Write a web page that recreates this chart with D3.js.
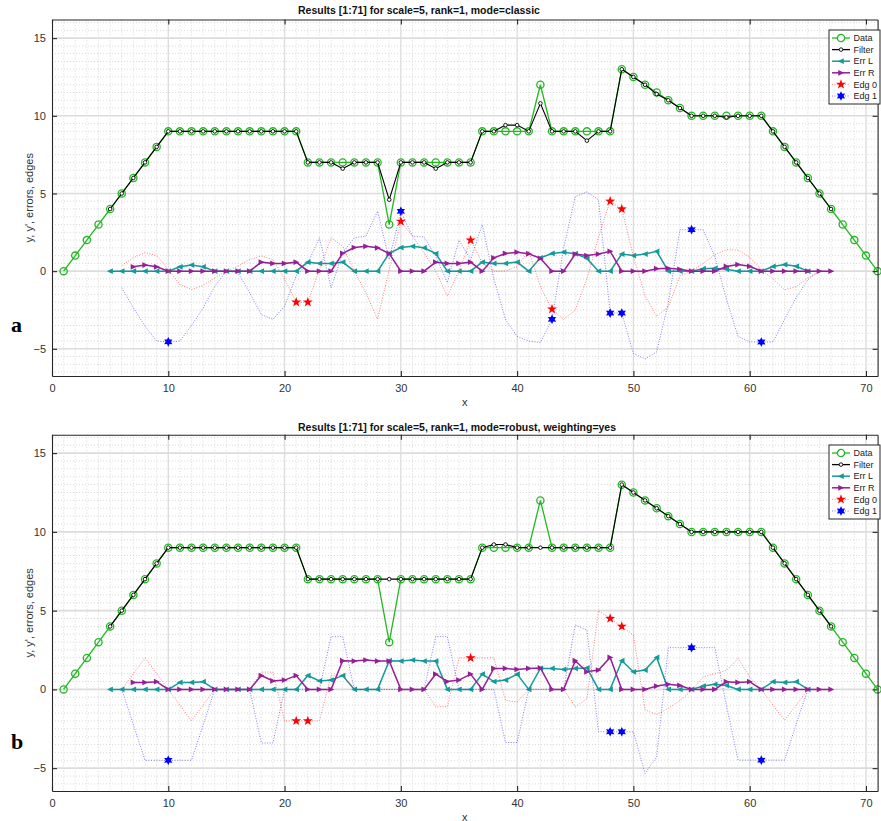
<!DOCTYPE html>
<html>
<head>
<meta charset="utf-8">
<script src="https://cdn.jsdelivr.net/npm/d3@7"></script>
<style>
  body { margin: 0; background: #fff; }
  svg { display: block; font-family: "Liberation Sans", Arial, Helvetica, sans-serif; }
</style>
</head>
<body>
<svg id="chart" width="881" height="821"></svg>
<script>
// ---- samples ----
const xFirst = 1;
const dataY = [0,1,2,3,4,5,6,7,8,9, 9,9,9,9,9,9,9,9,9,9, 9,7,7,7,7,7,7,7,3,7,
               7,7,7,7,7,7,9,9,9,9, 9,12,9,9,9,9,9,9,13,12.5, 12,11.5,11,10.5,10,10,10,10,10,10,
               10,9,8,7,6,5,4,3,2,1, 0];

// filter output, x = 5..67
const filterStart = 5;
const filterClassic = [4,5,6,7,8,9,9,9,9,9, 9,9,9,9,9,9,9,7,7,7, 6.6,7,7,7,4.6,7,7,7,6.6,7,
                       7,7,9,9,9.4,9.4,9,10.8,9,9, 9,8.4,9,9,13,12.5,12,11.4,11,10.5, 10,10,10,9.9,10,10,10,9,8,7,
                       6,5,4];
const filterRobust  = [4,5,6,7,8,9,9,9,9,9, 9,9,9,9,9,9,9,7,7,7, 7,7,7,7,7,7,7,7,7,7,
                       7,7,9,9.2,9.2,9,9,9,9,9, 9,9,9,9,13,12.5,12,11.5,11,10.5, 10,10,10,10,10,10,10,9,8,7,
                       6,5,4];

// left-window error, x = 5..65
const errLStart = 5;
const errLClassic = [0,0,0,0,0,0,0.28,0.39,0.28,0, 0,0,0,0,0,0,0,0.58,0.5,0.5, 0.58,0,0,0,1.15,1.52,1.6,1.5,1.13,0,
                     0,0,0.58,0.5,0.5,0.58,0,0.86,1.14,1.22, 1.12,0.82,0,0,1.1,1.0,1.1,1.28,0,0, 0,0.16,0.18,0.12,0,0,0,0.3,0.42,0.31,
                     0];
const errLRobust  = [0,0,0,0,0,0,0.44,0.44,0.49,0, 0,0,0,0,0,0,0,0.88,0.54,0.59, 0.88,0,0,0,1.82,1.8,1.86,1.8,1.8,0,
                     0,0,0.97,0.5,0.59,0.97,0,1.33,1.33,1.27, 1.33,1.36,0,0,1.82,1.12,1.23,2.03,0,0, 0,0.21,0.32,0.25,0,0,0,0.49,0.44,0.49,
                     0];

// right-window error, x = 7..67
const errRStart = 7;
const errRClassic = [0.28,0.39,0.28,0,0,0,0,0,0,0, 0,0.58,0.5,0.5,0.58,0,0,0,1.15,1.52, 1.6,1.5,1.13,0,0,0,0.58,0.5,0.5,0.58,
                     0,0.86,1.14,1.22,1.12,0.82,0,0,1.1,1.0, 1.1,1.28,0,0,0,0.16,0.18,0.12,0,0, 0,0.3,0.42,0.31,0,0,0,0,0,0,
                     0];
const errRRobust  = [0.44,0.44,0.49,0,0,0,0,0,0,0, 0,0.88,0.54,0.59,0.88,0,0,0,1.82,1.8, 1.86,1.8,1.8,0,0,0,0.97,0.5,0.59,0.97,
                     0,1.33,1.33,1.27,1.33,1.36,0,0,1.82,1.12, 1.23,2.03,0,0,0,0.21,0.32,0.25,0,0, 0,0.49,0.44,0.49,0,0,0,0,0,0,
                     0];

// edge indicators, x = 6..66
const edgStart = 6;
const edg0Classic = [0.36,0.86,1.2,1.0,0.1,-0.86,-1.18,-0.92,-0.43,0, 0.32,0.75,0.97,0.75,-0.5,-2.0,-2.0,0.1,2.15,1.6,
                     0,-1.4,-3.1,0.1,3.2,2.25,1.18,0,-1.6,0, 2.0,0.54,0,0,0.3,1.3,-1.0,-2.45,-3.1,-2.5,
                     -0.5,2.2,4.5,4.0,0.95,-1.6,-2.9,-2.3,-0.3,0, 0.5,1.06,1.38,1.35,0.9,0.1,-0.5,-1.2,-1.0,-0.44,
                     0];
const edg1Classic = [-1.07,-2.36,-3.54,-4.5,-4.55,-4.5,-3.5,-2.36,-0.97,0, -0.1,-1.4,-2.8,-3.1,-2.25,-0.3,0.5,2.15,-1.07,1.18,
                     2.15,2.25,3.86,0.75,3.85,2.25,2.2,0.97,-0.75,2.0, 0.75,3.0,-0.5,-3.1,-4.2,-4.5,-4.6,-3.1,1.5,4.8,
                     5.1,4.6,-2.7,-2.7,-5.3,-5.65,-5.2,-2.05,2.67,2.67, 2.67,0.95,-1.8,-4.2,-4.56,-4.56,-4.56,-3.1,-1.7,-0.55,
                     0];
const edg0Robust  = [0,1,2,1,0,-1,-2,-1,0,0, 0,0,1.1,1.1,-2,-2,-2,-2,0.9,0.9,
                     0,0,0,0,0,0,0,-1.1,-1.1,2.0, 2.0,2.0,2.0,-0.7,-0.8,0,0,0,0,-1.1,
                     -0.6,5.0,4.5,4.0,3.45,-1.3,-1.6,-1.2,-0.7,-0.1, 0.8,1.0,1.2,1.97,0.8,0,-1.0,-1.95,-1.0,0,
                     0];
const edg1Robust  = [0,-2.25,-4.5,-4.5,-4.5,-4.5,-4.5,-2.25,0,0, 0,0,-3.4,-3.4,0,0,0,0,3.35,3.35,
                     0,0,0,0,0,0,0,3.35,3.35,0, 0,0,0,-3.37,-3.37,0,0,0,0,4.09,
                     3.77,-2.69,-2.69,-2.69,-2.69,-5.34,-4.28,2.65,2.65,2.65, 2.65,2.65,-1.0,-4.49,-4.49,-4.49,-4.49,-4.49,-2.2,0,
                     0];

// detected edge positions
const edg0MarksClassic = [21,22,30,36,43,48,49];
const edg1MarksClassic = [10,30,43,48,49,55,61];
const edg0MarksRobust  = [21,22,36,48,49];
const edg1MarksRobust  = [10,48,49,55,61];

const xTicks = [0,10,20,30,40,50,60,70];
const yTicks = [-5,0,5,10,15];
const legendLabels = ["Data","Filter","Err L","Err R","Edg 0","Edg 1"];
const titles = ["Results [1:71] for scale=5, rank=1, mode=classic",
                "Results [1:71] for scale=5, rank=1, mode=robust, weighting=yes"];
const panelLetters = ["a","b"];
const xLabel = "x";
const yLabel = "y, y', errors, edges";

// ---- styling ----
const C = {
  data: "#22b822", filter: "#000000", errL: "#159a9a", errR: "#961e96",
  edg0: "#ff3b3b", edg1: "#3b3bff", axis: "#262626", grid: "#dcdcdc", minor: "#cfcfcf"
};

const svg = d3.select("#chart");

function seq(start, values) { return values.map((v, i) => ({ x: start + i, y: v })); }

// marker paths
function triPath(dir, s) { // dir -1 = pointing left, +1 = pointing right
  return `M${dir*s},0L${-dir*s*0.85},${-s*0.9}L${-dir*s*0.85},${s*0.9}Z`;
}
function starPath(points, rOut, rIn, rot) {
  let p = "";
  for (let i = 0; i < points * 2; i++) {
    const r = i % 2 === 0 ? rOut : rIn;
    const a = rot + i * Math.PI / points;
    p += (i ? "L" : "M") + (r * Math.sin(a)).toFixed(2) + "," + (-r * Math.cos(a)).toFixed(2);
  }
  return p + "Z";
}
const pentagram = starPath(5, 5.2, 2.1, 0);
const hexagram = starPath(6, 4.8, 2.6, 0);

function drawPanel(cfg) {
  const g = svg.append("g");
  const x = d3.scaleLinear().domain([0, 71]).range([cfg.left, cfg.right]);
  const y = d3.scaleLinear().domain(cfg.yDomain).range([cfg.bottom, cfg.top]);

  // minor grid
  const minorX = d3.range(1, 71).filter(v => v % 10 !== 0);
  const minorY = d3.range(Math.ceil(cfg.yDomain[0] * 2) / 2, cfg.yDomain[1], 0.5).filter(v => v % 5 !== 0);
  g.append("g").selectAll("line").data(minorX).join("line")
    .attr("x1", d => x(d)).attr("x2", d => x(d)).attr("y1", cfg.top).attr("y2", cfg.bottom)
    .attr("stroke", C.minor).attr("stroke-width", 0.8).attr("stroke-dasharray", "1,2");
  g.append("g").selectAll("line").data(minorY).join("line")
    .attr("x1", cfg.left).attr("x2", cfg.right).attr("y1", d => y(d)).attr("y2", d => y(d))
    .attr("stroke", C.minor).attr("stroke-width", 0.8).attr("stroke-dasharray", "1,2");
  // major grid
  g.append("g").selectAll("line").data(xTicks.filter(v => v > 0)).join("line")
    .attr("x1", d => x(d)).attr("x2", d => x(d)).attr("y1", cfg.top).attr("y2", cfg.bottom)
    .attr("stroke", C.grid).attr("stroke-width", 1.3);
  g.append("g").selectAll("line").data(yTicks).join("line")
    .attr("x1", cfg.left).attr("x2", cfg.right).attr("y1", d => y(d)).attr("y2", d => y(d))
    .attr("stroke", C.grid).attr("stroke-width", 1.6);

  const line = d3.line().x(d => x(d.x)).y(d => y(d.y));

  // Data
  const dataPts = seq(xFirst, dataY);
  g.append("path").datum(dataPts).attr("d", line).attr("fill", "none")
    .attr("stroke", C.data).attr("stroke-width", 1.3);
  g.append("g").selectAll("circle").data(dataPts).join("circle")
    .attr("cx", d => x(d.x)).attr("cy", d => y(d.y)).attr("r", 3.6)
    .attr("fill", "none").attr("stroke", C.data).attr("stroke-width", 1.3);

  // Filter
  const filtPts = seq(filterStart, cfg.filter);
  g.append("path").datum(filtPts).attr("d", line).attr("fill", "none")
    .attr("stroke", C.filter).attr("stroke-width", 1.1);
  g.append("g").selectAll("circle").data(filtPts).join("circle")
    .attr("cx", d => x(d.x)).attr("cy", d => y(d.y)).attr("r", 1.8)
    .attr("fill", "#fff").attr("stroke", C.filter).attr("stroke-width", 0.9);

  // Err L
  const lPts = seq(errLStart, cfg.errL);
  g.append("path").datum(lPts).attr("d", line).attr("fill", "none")
    .attr("stroke", C.errL).attr("stroke-width", 1.5);
  g.append("g").selectAll("path").data(lPts).join("path")
    .attr("transform", d => `translate(${x(d.x)},${y(d.y)})`)
    .attr("d", triPath(-1, 3.2)).attr("fill", C.errL);

  // Err R
  const rPts = seq(errRStart, cfg.errR);
  g.append("path").datum(rPts).attr("d", line).attr("fill", "none")
    .attr("stroke", C.errR).attr("stroke-width", 1.5);
  g.append("g").selectAll("path").data(rPts).join("path")
    .attr("transform", d => `translate(${x(d.x)},${y(d.y)})`)
    .attr("d", triPath(1, 3.2)).attr("fill", C.errR);

  // Edg 0 / Edg 1
  const e0 = seq(edgStart, cfg.edg0), e1 = seq(edgStart, cfg.edg1);
  g.append("path").datum(e0).attr("d", line).attr("fill", "none")
    .attr("stroke", C.edg0).attr("stroke-opacity", 0.65).attr("stroke-width", 1).attr("stroke-dasharray", "1,1.6");
  g.append("path").datum(e1).attr("d", line).attr("fill", "none")
    .attr("stroke", C.edg1).attr("stroke-opacity", 0.65).attr("stroke-width", 1).attr("stroke-dasharray", "1,1.6");
  g.append("g").selectAll("path").data(e0.filter(d => cfg.marks0.includes(d.x))).join("path")
    .attr("transform", d => `translate(${x(d.x)},${y(d.y)})`).attr("d", pentagram).attr("fill", "#ff0000");
  g.append("g").selectAll("path").data(e1.filter(d => cfg.marks1.includes(d.x))).join("path")
    .attr("transform", d => `translate(${x(d.x)},${y(d.y)})`).attr("d", hexagram).attr("fill", "#0000ff");

  // axes (ticks inside, box)
  const tick = 5;
  const axB = g.append("g").attr("transform", `translate(0,${cfg.bottom})`)
    .call(d3.axisBottom(x).tickValues(xTicks).tickSize(-tick).tickPadding(8).tickSizeOuter(0));
  const axT = g.append("g").attr("transform", `translate(0,${cfg.top})`)
    .call(d3.axisTop(x).tickValues(xTicks).tickSize(-tick).tickFormat("").tickSizeOuter(0));
  const axL = g.append("g").attr("transform", `translate(${cfg.left},0)`)
    .call(d3.axisLeft(y).tickValues(yTicks).tickSize(-tick).tickPadding(6).tickSizeOuter(0));
  const axR = g.append("g").attr("transform", `translate(${cfg.right},0)`)
    .call(d3.axisRight(y).tickValues(yTicks).tickSize(-tick).tickFormat("").tickSizeOuter(0));
  [axB, axT, axL, axR].forEach(a => {
    a.attr("font-family", null);
    a.select(".domain").attr("stroke", C.axis).attr("stroke-width", 1.1);
    a.selectAll(".tick line").attr("stroke", C.axis).attr("stroke-width", 1.1);
    a.selectAll("text").attr("fill", "#333").attr("font-size", 11);
  });

  // titles & labels
  g.append("text").attr("x", cfg.titleX).attr("y", cfg.titleY).attr("text-anchor", "start")
    .attr("font-size", 10.5).attr("font-weight", "bold").attr("fill", "#111").text(cfg.title);
  g.append("text").attr("x", (cfg.left + cfg.right) / 2).attr("y", cfg.bottom + 29.5)
    .attr("text-anchor", "middle").attr("font-size", 11).attr("fill", "#333").text(xLabel);
  g.append("text").attr("transform", `translate(${cfg.left - 19},${(cfg.top + cfg.bottom) / 2}) rotate(-90)`)
    .attr("text-anchor", "middle").attr("font-size", 11).attr("fill", "#333").text(yLabel);
  g.append("text").attr("x", 11).attr("y", cfg.letterY)
    .style("font-family", "'Liberation Serif','Times New Roman',serif").attr("font-weight", "bold")
    .attr("font-size", 22).attr("fill", "#000").text(cfg.letter);

  // legend
  const lg = g.append("g").attr("transform", `translate(${cfg.legendX},${cfg.legendY})`);
  const rowH = 11.6, boxW = 51, boxH = 74;
  lg.append("rect").attr("width", boxW).attr("height", boxH).attr("fill", "#fff")
    .attr("stroke", C.axis).attr("stroke-width", 1);
  legendLabels.forEach((lab, i) => {
    const ry = 8 + i * rowH, x1 = 3, x2 = 21, xm = 12;
    const row = lg.append("g").attr("transform", `translate(0,${ry})`);
    const st = [C.data, C.filter, C.errL, C.errR, C.edg0, C.edg1][i];
    const ln = row.append("line").attr("x1", x1).attr("x2", x2).attr("y1", 0).attr("y2", 0).attr("stroke", st);
    if (i < 4) ln.attr("stroke-width", i < 2 ? 1.3 : 1.5);
    else ln.attr("stroke-opacity", 0.65).attr("stroke-dasharray", "1,1.6");
    if (i === 0) row.append("circle").attr("cx", xm).attr("cy", 0).attr("r", 3.6).attr("fill", "#fff").attr("stroke", C.data).attr("stroke-width", 1.3);
    if (i === 1) row.append("circle").attr("cx", xm).attr("cy", 0).attr("r", 1.8).attr("fill", "#fff").attr("stroke", C.filter).attr("stroke-width", 0.9);
    if (i === 2) row.append("path").attr("transform", `translate(${xm},0)`).attr("d", triPath(-1, 3.2)).attr("fill", C.errL);
    if (i === 3) row.append("path").attr("transform", `translate(${xm},0)`).attr("d", triPath(1, 3.2)).attr("fill", C.errR);
    if (i === 4) row.append("path").attr("transform", `translate(${xm},0)`).attr("d", pentagram).attr("fill", "#ff0000");
    if (i === 5) row.append("path").attr("transform", `translate(${xm},0)`).attr("d", hexagram).attr("fill", "#0000ff");
    row.append("text").attr("x", 24.5).attr("y", 0).attr("dy", "0.35em").attr("font-size", 9).attr("fill", "#222").text(lab);
  });
}

drawPanel({
  left: 52, right: 877.6, top: 19.5, bottom: 376, yDomain: [-6.75, 16.2],
  filter: filterClassic, errL: errLClassic, errR: errRClassic, edg0: edg0Classic, edg1: edg1Classic,
  marks0: edg0MarksClassic, marks1: edg1MarksClassic,
  title: titles[0], titleX: 298, titleY: 14, letter: panelLetters[0], letterY: 332, legendX: 829, legendY: 30
});
drawPanel({
  left: 52, right: 877.6, top: 434.7, bottom: 791, yDomain: [-6.45, 16.17],
  filter: filterRobust, errL: errLRobust, errR: errRRobust, edg0: edg0Robust, edg1: edg1Robust,
  marks0: edg0MarksRobust, marks1: edg1MarksRobust,
  title: titles[1], titleX: 298, titleY: 430.5, letter: panelLetters[1], letterY: 749, legendX: 829, legendY: 445
});
</script>
</body>
</html>
